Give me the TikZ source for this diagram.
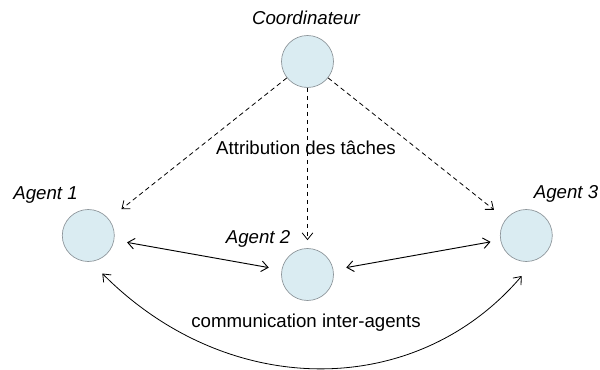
\documentclass[tikz,border=0pt]{standalone}
\usepackage{fontspec}
\setmainfont{Liberation Sans}
\usetikzlibrary{arrows.meta}
\definecolor{agentfill}{HTML}{DAECF2}
\definecolor{agentline}{HTML}{8C9499}
\begin{document}
\begin{tikzpicture}[x=0.75pt,y=-0.75pt,
  agent/.style={circle,fill=agentfill,draw=agentline,line width=0.5pt,minimum size=52*0.75pt,inner sep=0pt},
  role/.style={font=\fontsize{14}{16}\selectfont\itshape},
  caption/.style={font=\fontsize{14}{16}\selectfont,inner sep=1pt},
  task/.style={dashed,dash pattern=on 3.5pt off 2.5pt,line width=0.6pt,-{Straight Barb[length=5pt,width=8pt]}},
  talk/.style={line width=0.7pt,{Straight Barb[length=5pt,width=8pt]}-{Straight Barb[length=5pt,width=8pt]}}]
\useasboundingbox (0,0) rectangle (600,370);

% agents and coordinator
\node[agent] (coord) at (307.5,61.5) {};
\node[agent] (a1) at (88.3,235.5) {};
\node[agent] (a2) at (307.5,274.5) {};
\node[agent] (a3) at (526.3,235.5) {};

% role labels
\node[role] (lc) at (306,18) {Coordinateur};
\node[role] (l1) at (45.5,195) {Agent 1};
\node[role] (l2) at (258,239) {Agent 2};
\node[role] (l3) at (566,194) {Agent 3};

% task assignment (dashed)
\node[caption] (ltask) at (306,148) {Attribution des tâches};
\draw[task,shorten >=16pt*0.75] (coord) -- (a1);
\draw[task,shorten >=8pt*0.75] (coord) -- (a2);
\draw[task,shorten >=15pt*0.75] (coord) -- (a3);

% inter-agent communication
\draw[talk,shorten <=13pt*0.75,shorten >=13pt*0.75] (a1) -- (a2);
\draw[talk,shorten <=13pt*0.75,shorten >=10pt*0.75] (a2) -- (a3);
\draw[line width=0.6pt,{Straight Barb[length=5pt,width=8pt]}-{Straight Barb[length=5pt,width=8pt]}]
  (a1.center) ++(14,38) coordinate (c1)
  (a3.center) ++(-4.6,40.5) coordinate (c3)
  (c1) .. controls (228,400) and (416,400) .. (c3);
\node[caption] (lcomm) at (306,323) {communication inter-agents};
\end{tikzpicture}
\end{document}
